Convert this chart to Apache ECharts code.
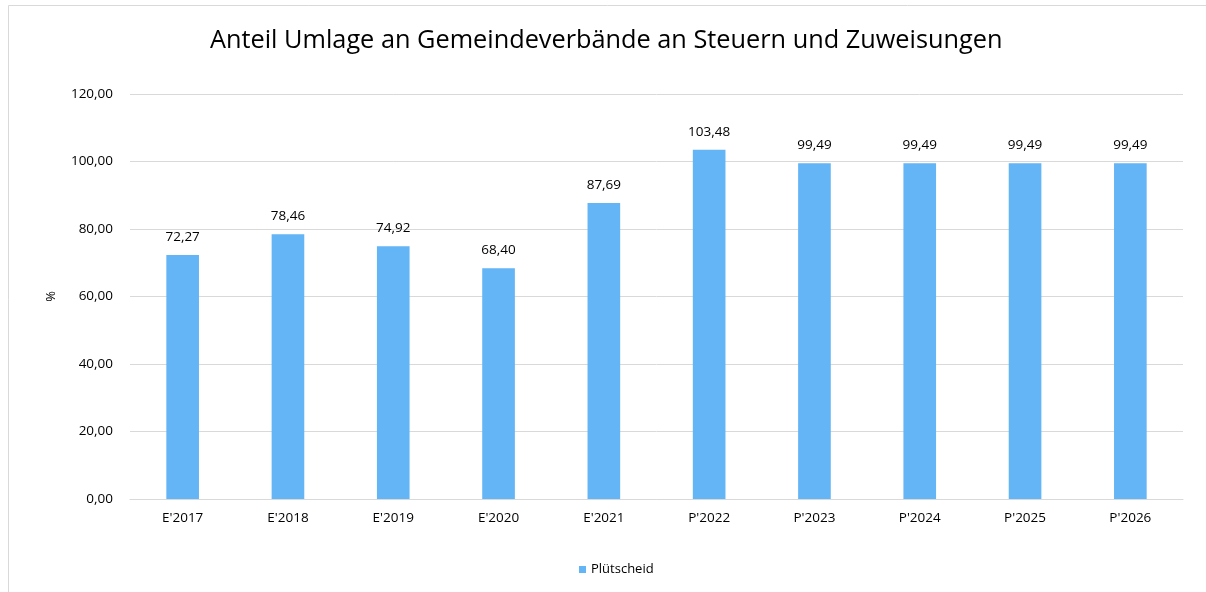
<!DOCTYPE html>
<html><head><meta charset="utf-8">
<script src="https://cdn.jsdelivr.net/npm/echarts@6/dist/echarts.min.js"></script>
<style>html,body{margin:0;padding:0;background:#fff}#c{width:1206px;height:592px}</style>
</head><body><div id="c"></div>
<script>
const categories = ["E'2017","E'2018","E'2019","E'2020","E'2021","P'2022","P'2023","P'2024","P'2025","P'2026"];
const values = [72.27,78.46,74.92,68.40,87.69,103.48,99.49,99.49,99.49,99.49];
const seriesName = "Plütscheid";
const titleText = "Anteil Umlage an Gemeindeverbände an Steuern und Zuweisungen";
const fmt = v => Number(v).toFixed(2).replace('.', ',');
const chart = echarts.init(document.getElementById('c'));
const font = "'Open Sans', 'Liberation Sans', sans-serif";
chart.setOption({
  animation:false,
  textStyle:{fontFamily:font},
  graphic:[{type:'rect',shape:{x:8.5,y:5.5,width:1220,height:600},style:{fill:'none',stroke:'#d9d9d9',lineWidth:1},silent:true}],
  title:{text:titleText,left:210,top:28,textStyle:{fontFamily:font,fontSize:25.3,fontWeight:'normal',color:'#000'},padding:0},
  legend:{left:574,top:558,itemWidth:7,itemHeight:7,itemGap:6,icon:'rect',textStyle:{fontFamily:font,fontSize:13,color:'#000'},data:[seriesName]},
  grid:{left:130,right:23,top:94,bottom:93,containLabel:false},
  xAxis:{type:'category',data:categories,axisLine:{lineStyle:{color:'#d9d9d9',width:1}},axisTick:{show:false},
    axisLabel:{color:'#000',fontFamily:font,fontSize:13.5,margin:12}},
  yAxis:{type:'value',min:0,max:120,interval:20,name:'%',nameLocation:'middle',nameGap:72,nameRotate:90,
    nameTextStyle:{color:'#000',fontFamily:font,fontSize:13},
    axisLine:{show:false},axisTick:{show:false},
    splitLine:{lineStyle:{color:'#d9d9d9',width:1}},
    axisLabel:{color:'#000',fontFamily:font,fontSize:13.5,margin:17,formatter:fmt}},
  series:[{name:seriesName,type:'bar',data:values,barWidth:'31%',itemStyle:{color:'#63B5F6'},
    label:{show:true,position:'top',distance:11,color:'#000',fontFamily:font,fontSize:13.5,formatter:p=>fmt(p.value)}}]
});
</script></body></html>
